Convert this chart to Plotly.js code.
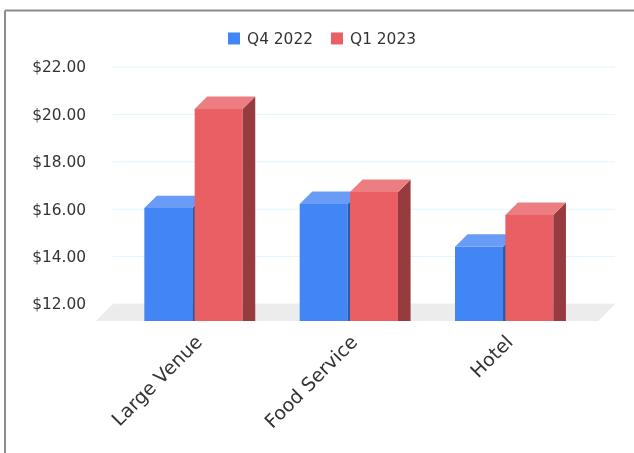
<!DOCTYPE html>
<html>
<head>
<meta charset="utf-8">
<script src="https://cdn.plot.ly/plotly-3.0.1.min.js"></script>
<style>html,body{margin:0;padding:0;background:#fff}#chart{filter:blur(0.4px)}</style>
</head>
<body>
<div id="chart" style="width:634px;height:453px"></div>
<script>
const categories = ["Large Venue", "Food Service", "Hotel"];
const q4_2022 = [16.31, 16.48, 14.68];
const q1_2023 = [20.49, 16.99, 16.02];
const yTicks = [12, 14, 16, 18, 20, 22];
const yTickLabels = ["$12.00", "$14.00", "$16.00", "$18.00", "$20.00", "$22.00"];

const FLOOR = 11.283, YTOP = 23.983;
const XMIN = -0.6276, XMAX = 2.7133;
const BAR_W = 0.309, OFF = 0.162;
const DX = 0.081, DY = 0.262;
const FONT = "DejaVu Sans, Verdana, sans-serif";

const cats = categories.map((_, i) => i);

function faces(values, offset, colTop, colSide, xa, ya) {
  const topX = [], topY = [], sideX = [], sideY = [];
  values.forEach((v, i) => {
    const l = i + offset - BAR_W / 2, r = l + BAR_W;
    topX.push(l, r, r + DX, l + DX, l, null);
    topY.push(v - DY, v - DY, v + DY, v + DY, v - DY, null);
    sideX.push(r, r + DX, r + DX, r, r, null);
    sideY.push(v - DY, v + DY, FLOOR, FLOOR, v - DY, null);
  });
  const mk = (x, y, c) => ({type: "scatter", mode: "lines", x, y, fill: "toself", fillcolor: c,
    line: {width: 0, color: c}, showlegend: false, hoverinfo: "skip", xaxis: xa, yaxis: ya});
  return [mk(sideX, sideY, colSide), mk(topX, topY, colTop)];
}
function front(values, offset, name, color, xa, ya) {
  return {type: "bar", name, x: cats, y: values.map(v => v - DY - FLOOR), base: FLOOR,
    width: BAR_W, offset: offset - BAR_W / 2, marker: {color, line: {width: 0}},
    xaxis: xa, yaxis: ya, hoverinfo: "skip"};
}
const traces = [
  front(q4_2022, -OFF, "Q4 2022", "#4285f4", "x", "y"),
  ...faces(q4_2022, -OFF, "#6a9bf6", "#2a5aa8", "x", "y"),
  front(q1_2023, OFF, "Q1 2023", "#ea5f64", "x2", "y2"),
  ...faces(q1_2023, OFF, "#ec7e82", "#963b3f", "x2", "y2")
];

const shapes = [
  {type: "path", xref: "x", yref: "y", layer: "below", line: {width: 0}, fillcolor: "#ececec",
   path: `M ${XMIN} ${FLOOR} L ${XMIN + 0.107} 12 L ${XMAX} 12 L ${XMAX - 0.107} ${FLOOR} Z`},
  {type: "line", xref: "paper", yref: "paper", x0: -0.1753, x1: -0.1753, y0: 1.0316, y1: -0.4385,
   line: {color: "#8c8c8c", width: 2}},
  {type: "line", xref: "paper", yref: "paper", x0: -0.1753, x1: 1.04, y0: 1.0316, y1: 1.0316,
   line: {color: "#8c8c8c", width: 2}}
];
yTicks.forEach(t => shapes.push({type: "line", xref: "x", yref: "y", layer: "below",
  x0: XMIN + 0.107, x1: XMAX, y0: t, y1: t, line: {color: "#e0f6fd", width: 1}}));

const hiddenAxis = {showgrid: false, zeroline: false, showticklabels: false, ticks: "", showline: false};
const layout = {
  width: 634, height: 453,
  margin: {l: 96, r: 19, t: 20, b: 132},
  paper_bgcolor: "#ffffff", plot_bgcolor: "rgba(0,0,0,0)",
  font: {family: FONT, size: 15.4, color: "#333333"},
  barmode: "overlay",
  showlegend: true,
  legend: {orientation: "h", x: 0.2139, xanchor: "left", y: 0.937, yanchor: "middle",
    font: {family: FONT, size: 15.4, color: "#333333"}, bgcolor: "rgba(0,0,0,0)",
    entrywidth: 58, entrywidthmode: "pixels", itemclick: false, itemdoubleclick: false},
  xaxis: {range: [XMIN, XMAX], tickmode: "array", tickvals: cats, ticktext: categories, tickangle: -45,
    showgrid: false, zeroline: false, showline: false, ticks: "", ticklabelstandoff: 5, ticklabelshift: 3,
    tickfont: {family: FONT, size: 19, color: "#333333"}},
  yaxis: {range: [FLOOR, YTOP], tickmode: "array", tickvals: yTicks, ticktext: yTickLabels,
    showgrid: false, zeroline: false, showline: false, ticks: "", ticklabelstandoff: 9,
    tickfont: {family: FONT, size: 15.4, color: "#333333"}},
  xaxis2: Object.assign({range: [XMIN, XMAX], overlaying: "x", anchor: "y2"}, hiddenAxis),
  yaxis2: Object.assign({range: [FLOOR, YTOP], overlaying: "y", anchor: "x2"}, hiddenAxis),
  shapes
};
Plotly.newPlot("chart", traces, layout, {displayModeBar: false, staticPlot: true}).then(() => {
  // Bring legend keys closer to their labels and let the fixed-width entries show in full.
  document.querySelectorAll("#chart .legend .legendsymbols").forEach(g => g.setAttribute("transform", "translate(7,0)"));
  document.querySelectorAll("#chart .legend .scrollbox").forEach(g => g.removeAttribute("clip-path"));
  document.querySelectorAll("#chart .legend .groups").forEach(g => g.removeAttribute("clip-path"));
  document.querySelectorAll("#chart .legend .traces text").forEach(t => t.removeAttribute("clip-path"));
  document.querySelectorAll("#chart .legend .traces").forEach(t => t.removeAttribute("clip-path"));
});
</script>
</body>
</html>
